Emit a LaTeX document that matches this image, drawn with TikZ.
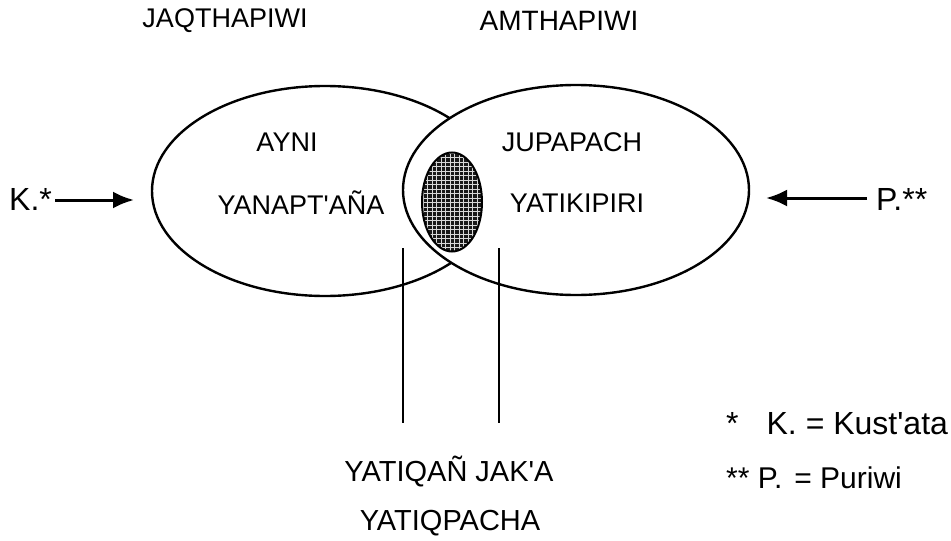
\documentclass[tikz,border=0pt]{standalone}
\usepackage{fontspec}
\setmainfont{Liberation Sans}
\usetikzlibrary{shapes.geometric,arrows.meta}
\tikzset{
  lbl/.style={inner sep=0pt, font=\fontsize{27}{32}\selectfont},
  toplbl/.style={inner sep=0pt, font=\fontsize{27}{32}\selectfont},
  sidelbl/.style={inner sep=0pt, font=\fontsize{32}{38}\selectfont},
  botlbl/.style={inner sep=0pt, font=\fontsize{29}{34}\selectfont},
  fnlbla/.style={inner sep=0pt, font=\fontsize{32}{38}\selectfont},
  fnlblb/.style={inner sep=0pt, font=\fontsize{30}{36}\selectfont},
  setell/.style={ellipse, draw, line width=2.4pt, inner sep=0pt, minimum width=346pt, minimum height=210pt},
  arr/.style={line width=3pt, -{Latex[length=21pt,width=17pt]}},
  vline/.style={line width=1.8pt}
}
\begin{document}
\begin{tikzpicture}[x=1pt,y=-1pt]
\useasboundingbox (0,0) rectangle (951,541);
% sets
\node[setell] (L) at (325,191) {};
\node[setell, fill=white] (R) at (576,190) {};
\begin{scope}
  \clip (452,202) ellipse [x radius=30, y radius=49.5];
  \fill[black!90] (420,150) rectangle (484,254);
  \draw[white!85!black, line width=0.9pt, step=4.5pt] (420,150) grid (484,254);
\end{scope}
\node[ellipse, draw, line width=2pt, inner sep=0pt, minimum width=60pt, minimum height=99pt] (S) at (452,202) {};
% titles
\node[toplbl] (jaq) at (225,21) {JAQTHAPIWI};
\node[toplbl, font=\fontsize{28}{32}\selectfont] (amt) at (559,21) {AMTHAPIWI};
% inner labels
\node[lbl] (ayni) at (287,142) {AYNI};
\node[lbl] (yan) at (301,203) {YANAPT\textquotesingle AÑA};
\node[lbl] (jup) at (572,142) {JUPAPACH};
\node[lbl] (yat) at (577,203) {YATIKIPIRI};
% side labels and arrows
\node[sidelbl, anchor=west] (k) at (9,199) {K.*};
\node[sidelbl, anchor=west] (p) at (876,199) {P.**};
\coordinate (kend) at (134,200);
\coordinate (pend) at (766,198);
\draw[arr] (k.east |- kend) ++(3,0) coordinate (kstart) -- (kend);
\draw[arr] ([xshift=-9pt]p.west |- pend) coordinate (pstart) -- (pend);
% vertical lines
\coordinate (v1t) at (403,248);
\coordinate (v1b) at (403,423);
\coordinate (v2t) at (499,248);
\coordinate (v2b) at (499,423);
\draw[vline] (v1t) -- (v1b);
\draw[vline] (v2t) -- (v2b);
% bottom labels
\node[botlbl] (bot1) at (449,472) {YATIQAÑ JAK\textquotesingle A};
\node[botlbl] (bot2) at (450,523) {YATIQPACHA};
% footnotes
\node[fnlbla, anchor=west] (fn1) at (726,424) {*\hspace{28pt}K. = Kust\textquotesingle ata};
\node[fnlblb, anchor=west] (fn2) at (726,478) {** P.\hspace{12pt}= Puriwi};
\end{tikzpicture}
\end{document}
